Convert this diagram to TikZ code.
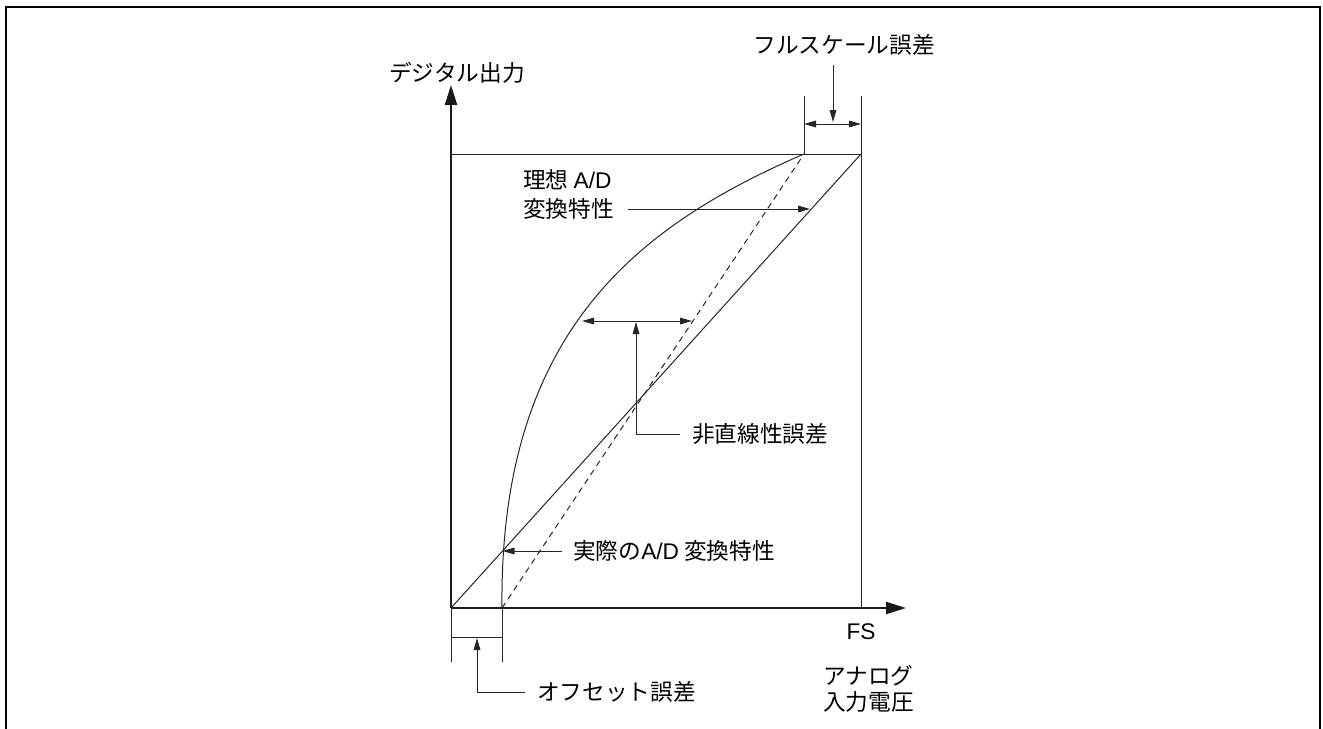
\documentclass[tikz,border=0pt]{standalone}
\usepackage{fontspec}
\setmainfont{Noto Sans CJK JP}
\newfontfamily\latinf{Liberation Sans}
\usetikzlibrary{arrows.meta}
\begin{document}
\begin{tikzpicture}[x=0.75pt,y=-0.75pt,
  lbl/.style={font=\fontsize{17}{21.5}\selectfont, inner sep=0pt, text=black},
  thinl/.style={line width=0.75pt, draw=black!85},
  axisl/.style={line width=1.7pt, draw=black!90, -{Triangle[length=15pt,width=9pt]}},
  arr/.style={thinl, -{Triangle[length=9pt,width=5pt]}},
  arrboth/.style={thinl, {Triangle[length=9pt,width=5pt]}-{Triangle[length=9pt,width=5pt]}}]
\useasboundingbox (0,0) rectangle (1323,728);
% frame
\draw[line width=1.6pt] (6,732) -- (6,7) -- (1320,7) -- (1320,732);
% key points
\coordinate (O) at (451,608);
\coordinate (off) at (502,608);
\coordinate (FS) at (861,608);
\coordinate (TL) at (451,154);
\coordinate (TR) at (861,154);
\coordinate (TM) at (804,154);
\coordinate (yend) at (451,85);
\coordinate (xend) at (906,608);
% box lines
\draw[thinl] (TL) -- (TR);
\draw[thinl] (861,96) -- (FS);
% ideal line
\draw[thinl] (O) -- (TR);
% dashed line
\draw[thinl, dash pattern=on 4.5pt off 3.5pt] (off) -- (TM);
% actual curve
\draw[thinl] (off) .. controls (499,330) and (640,225) .. (TM);
% axes
\draw[axisl] (O) -- (yend);
\draw[axisl] (O) -- (xend);
% labels of axes
\node[lbl] (ylbl) at (457,73) {デジタル出力};
\node[lbl] (fslbl) at (861,632) {\latinf FS};
\node[lbl, anchor=west, align=left] (xlbl) at (823,689) {アナログ\\[-2.5pt]入力電圧};
% full-scale error
\coordinate (fsl) at (804,124);
\coordinate (fsr) at (861,124);
\draw[thinl] (804,96) -- (TM);
\draw[arrboth] (fsl) -- (fsr);
\node[lbl] (fse) at (844,45) {フルスケール誤差};
\coordinate (fsa) at (833,122);
\draw[arr] (833,65) -- (fsa);
% ideal label
\node[lbl, anchor=west, align=left] (ideal) at (523,194.5) {理想 {\latinf A/D}\\変換特性};
\coordinate (ideala) at (810,209);
\draw[arr] (628,209) -- (ideala);
% nonlinearity error
\coordinate (nll) at (582,321);
\coordinate (nlr) at (692,321);
\draw[arrboth] (nll) -- (nlr);
\node[lbl, anchor=west] (nle) at (692,434) {非直線性誤差};
\draw[arr] (680,434) -- (636,434) -- (636,322);
% actual label
\node[lbl, anchor=west] (act) at (573,551) {実際の{\latinf A/D} 変換特性};
\coordinate (acta) at (502.5,551);
\draw[arr] (562,551) -- (acta);
% offset error
\draw[thinl] (O) -- (451,662);
\draw[thinl] (off) -- (502,662);
\draw[thinl] (451,637) -- (502,637);
\node[lbl, anchor=west] (offe) at (537,692) {オフセット誤差};
\draw[arr] (525,692) -- (477,692) -- (477,638);
\end{tikzpicture}
\end{document}
